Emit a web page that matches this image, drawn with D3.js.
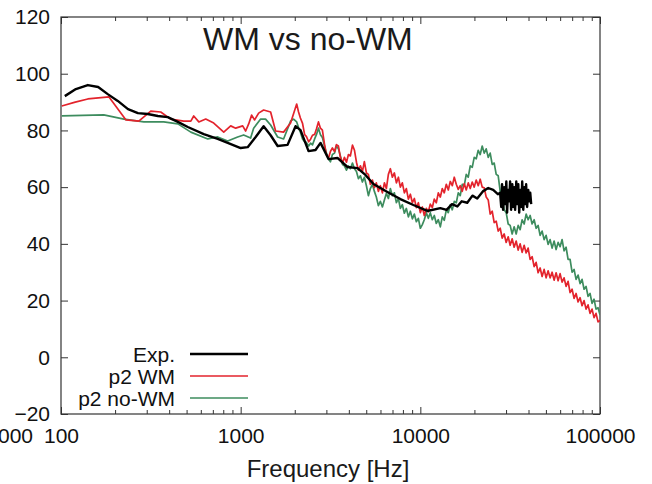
<!DOCTYPE html>
<html><head><meta charset="utf-8">
<script src="https://cdn.jsdelivr.net/npm/d3@7"></script>
<style>body{margin:0;background:#fff}svg{display:block}text{font-family:"Liberation Sans",Arial,Helvetica,sans-serif}</style>
</head><body><svg id="c" width="652" height="484"></svg>
<script>
// ---------------- data ----------------
const title = "WM vs no-WM";
const xLabel = "Frequency [Hz]";
const seriesNames = ["Exp.", "p2 WM", "p2 no-WM"];
const xTickValues = [100, 1000, 10000, 100000];
const yTickValues = [-20, 0, 20, 40, 60, 80, 100, 120];

// Exp. (measured)
const expFreq = [105,121,141,161,182,207,236,268,304,346,393,447,508,623,745,847,1000,1094,1212,1342,1468,1606,1824,2021,2154,2387,2610,2783,3083,3458,3930,4467,4948,5482,6556,7743,9146,10938,12915,14000,15000,16060,17000,18245,19500,20736,22387,23870,25440,27000,
  27800,28200,28500,28900,29300,29700,30100,30400,30800,31200,31600,32000,32500,32900,33300,33700,34200,34600,35100,35500,36000,36400,36900,37400,37900,38400,38800,39300,39900,40400,40900,41400];
const expVal = [92.1,94.6,96.0,95.3,92.8,90.4,87.5,86.1,85.8,85.1,84.7,83.0,81.2,78.7,77.0,75.6,73.8,74.1,77.7,81.5,78.3,74.5,74.9,81.5,80.1,72.7,73.1,75.6,69.9,70.3,67.1,66.7,64.3,61.1,58.3,55.8,53.7,51.6,52.6,52.0,54.0,53.2,55.0,54.5,57.0,56.0,58.6,59.7,59.0,57.5,
  58,53,61,52,60,54,62,51,59,55,62,52,61,53,60,52,62,54,61,51,59,53,62,52,60,54,61,53,59,55,58,54];

// p2 WM, low-frequency part
const wmLowFreq = [101,120,141,185,230,271,316,359,408,482,528,548,585,639,708,805,880,938,1026,1066,1108,1151,1196,1259,1342,1468,1565,1733,1896];
const wmLowVal  = [88.6,90.0,91.1,91.8,83.7,83.3,86.8,86.5,84.0,83.3,83.3,85.1,83.0,84.0,82.6,79.4,81.6,80.8,81.6,79.8,82.3,85.4,83.7,86.1,87.2,86.5,79.8,79.4,82.6];

// p2 no-WM, low-frequency part
const noWmLowFreq = [101,173,224,289,373,447,528,656,745,847,962,1039,1136,1181,1292,1376,1468,1606,1733,1896,1970];
const noWmLowVal  = [85.1,85.5,84.0,83.0,83.0,82.3,79.4,77.0,77.7,76.3,77.7,78.4,77.3,80.8,84.0,84.0,81.9,77.7,77.0,83.3,84.0];

// shared high-frequency grid for both simulations
const hfFreq = [2050,2100,2150,2210,2270,2320,2390,2450,2510,2580,
  2640,2710,2780,2850,2930,3000,3080,3160,3240,3330,
  3410,3500,3590,3690,3780,3880,3980,4080,4190,4300,
  4410,4520,4640,4760,4880,5010,5140,5270,5410,5550,
  5690,5840,5990,6150,6310,6470,6640,6810,6990,7170,
  7360,7550,7740,7940,8150,8360,8580,8800,9030,9260,
  9500,9750,10000,10260,10520,10800,11080,11360,11660,11960,
  12270,12590,12920,13250,13590,13950,14310,14680,15060,15450,
  15850,16260,16680,17110,17560,18010,18480,18960,19450,19950,
  20470,21000,21540,22100,22670,23260,23870,24480,25120,25770,
  26440,27130,27830,28550,29290,30050,30830,31620,32440,33280,
  34150,35030,35940,36870,37830,38810,39810,40840,41900,42990,
  44110,45250,46420,47630,48860,50130,51430,52760,54130,55530,
  56970,58450,59960,61520,63110,64750,66430,68150,69920,71730,
  73590,75500,77460,79470,81530,83640,85810,88030,90320,92660,
  95060,97520,100000];
const wmHfVal = [89.3,86.5,84.4,82.5,78.5,77.9,76.0,76.9,78.3,78.6,
  80.5,83.0,80.8,80.1,75.0,71.5,70.2,72.6,73.8,72.5,
  75.0,74.5,70.5,68.5,70.5,68.8,71.5,71.0,74.8,73.0,
  68.8,66.0,67.5,65.5,69.0,65.0,64.5,61.0,62.5,59.8,
  61.5,58.5,60.5,58.0,61.5,59.5,64.5,66.5,63.5,65.0,
  61.5,63.5,60.0,61.5,58.0,59.5,55.8,57.5,54.5,56.0,
  52.8,54.5,51.0,53.0,50.0,52.5,51.3,54.0,52.8,55.8,
  54.5,58.0,56.5,59.5,58.0,61.0,59.0,62.0,60.5,63.5,
  61.0,59.2,60.5,58.5,61.2,59.0,61.5,59.5,61.8,60.0,
  62.5,60.5,62.8,60.0,59.8,56.5,55.5,50.5,51.5,47.5,
  48.0,44.5,45.5,42.0,43.5,40.5,42.5,39.5,41.8,38.8,
  41.0,37.8,40.0,37.0,39.5,36.8,38.5,34.5,35.5,32.0,
  33.5,29.8,31.5,28.5,31.0,28.0,30.5,28.0,30.0,27.2,
  29.8,27.0,29.5,26.5,28.0,25.0,26.8,22.8,24.0,20.8,
  22.5,19.5,21.0,18.2,20.0,17.0,18.5,15.5,17.0,14.0,
  15.5,12.5,13.0];
const noWmHfVal = [83.0,81.0,79.4,77.0,76.0,75.8,74.5,75.5,74.9,77.0,
  78.5,80.8,78.5,77.5,74.5,72.0,70.0,68.9,71.5,72.0,
  74.5,73.5,71.0,68.0,67.5,66.0,67.5,66.5,68.5,66.5,
  65.5,63.0,64.0,61.8,63.5,60.5,57.0,59.5,61.0,58.5,
  56.5,53.5,55.0,53.0,55.5,57.8,56.0,59.5,57.0,58.0,
  54.5,56.0,52.5,53.8,50.8,52.5,49.5,51.5,48.8,50.5,
  47.8,49.0,45.5,46.8,48.5,51.0,49.0,51.0,48.5,50.0,
  47.2,48.5,46.0,49.5,48.3,52.0,51.0,53.8,52.0,55.0,
  54.5,58.0,57.0,61.0,60.5,64.5,63.5,67.5,67.0,70.5,
  70.0,73.0,71.5,74.5,72.0,73.5,70.5,72.0,68.0,68.5,
  64.5,64.0,58.5,57.0,52.0,51.0,47.0,46.5,43.5,46.0,
  43.5,46.5,45.0,48.5,47.0,50.5,48.5,50.0,47.0,48.5,
  45.5,46.5,43.0,44.5,41.5,43.0,39.8,41.5,38.5,41.0,
  38.0,40.5,39.0,41.5,37.5,38.8,34.5,34.5,30.0,31.0,
  27.5,29.0,26.0,27.5,24.0,25.0,21.5,22.5,19.0,20.5,
  17.0,17.5,15.0];

// ---------------- drawing ----------------
const colors = {"Exp.":"#000000","p2 WM":"#e3232c","p2 no-WM":"#3d8c5e"};
const widths = {"Exp.":2.4,"p2 WM":1.7,"p2 no-WM":1.7};

const zip = (f, v) => f.map((d, i) => ({f: d, v: v[i]}));
const series = {
  "Exp.": zip(expFreq, expVal),
  "p2 WM": zip(wmLowFreq.concat(hfFreq), wmLowVal.concat(wmHfVal)),
  "p2 no-WM": zip(noWmLowFreq.concat(hfFreq), noWmLowVal.concat(noWmHfVal))
};

const svg = d3.select("#c");
const L = 61, R = 600, T = 17, B = 414;
const x = d3.scaleLog().domain([100, 100000]).range([L, R]);
const y = d3.scaleLinear().domain([-20, 120]).range([B, T]);

const minorTicks = [];
for (let dec = 100; dec < 100000; dec *= 10) for (let k = 2; k <= 9; k++) minorTicks.push(dec * k);

const axisColor = "#333";
function styleAxis(g, fs) {
  g.select(".domain").remove();
  g.selectAll("line").attr("stroke", axisColor).attr("stroke-width", 1);
  g.selectAll("text").attr("fill", "#111").style("font-size", fs + "px");
}

// bottom axis
svg.append("g").attr("transform", `translate(0,${B})`)
  .call(d3.axisBottom(x).tickValues(xTickValues).tickFormat(d3.format("d")).tickSizeInner(-7).tickSizeOuter(0).tickPadding(14))
  .call(g => styleAxis(g, 21));
svg.append("g").attr("transform", `translate(0,${B})`)
  .call(d3.axisBottom(x).tickValues(minorTicks).tickFormat("").tickSizeInner(-4).tickSizeOuter(0))
  .call(g => styleAxis(g, 21));
// top axis
svg.append("g").attr("transform", `translate(0,${T})`)
  .call(d3.axisTop(x).tickValues(xTickValues).tickFormat("").tickSizeInner(-7).tickSizeOuter(0))
  .call(g => styleAxis(g, 21));
svg.append("g").attr("transform", `translate(0,${T})`)
  .call(d3.axisTop(x).tickValues(minorTicks).tickFormat("").tickSizeInner(-4).tickSizeOuter(0))
  .call(g => styleAxis(g, 21));
// left axis
svg.append("g").attr("transform", `translate(${L},0)`)
  .call(d3.axisLeft(y).tickValues(yTickValues).tickSizeInner(-7).tickSizeOuter(0).tickPadding(11))
  .call(g => styleAxis(g, 21));
// right axis
svg.append("g").attr("transform", `translate(${R},0)`)
  .call(d3.axisRight(y).tickValues(yTickValues).tickFormat("").tickSizeInner(-7).tickSizeOuter(0))
  .call(g => styleAxis(g, 21));

// neighbouring panel's cut-off label (cut at the left edge, as in the reference)
svg.append("text").attr("x", 33).attr("y", 443).attr("text-anchor", "end")
  .style("font-size", "21px").attr("fill", "#111").text("1000");

// frame
svg.append("rect").attr("x", L).attr("y", T).attr("width", R - L).attr("height", B - T)
  .attr("fill", "none").attr("stroke", axisColor).attr("stroke-width", 1.2);

// lines
const line = d3.line().x(d => x(d.f)).y(d => y(d.v));
svg.append("clipPath").attr("id", "clp").append("rect")
  .attr("x", L).attr("y", T).attr("width", R - L).attr("height", B - T);
const plotG = svg.append("g").attr("clip-path", "url(#clp)");
["p2 no-WM", "p2 WM", "Exp."].forEach(name => {
  plotG.append("path").datum(series[name]).attr("d", line)
    .attr("fill", "none").attr("stroke", colors[name]).attr("stroke-width", widths[name])
    .attr("stroke-linejoin", "round");
});

// title
svg.append("text").attr("x", 203).attr("y", 50).style("font-size", "32px").attr("fill", "#1a1a1a").text(title);

// x label
svg.append("text").attr("x", 328).attr("y", 477).attr("text-anchor", "middle")
  .style("font-size", "24px").attr("fill", "#1a1a1a").text(xLabel);

// legend
seriesNames.forEach((name, i) => {
  const ly = 354 + i * 22;
  svg.append("text").attr("x", 175).attr("y", ly + 7.5).attr("text-anchor", "end")
    .style("font-size", "21px").attr("fill", "#111").text(name);
  svg.append("line").attr("x1", 190).attr("x2", 248).attr("y1", ly).attr("y2", ly)
    .attr("stroke", colors[name]).attr("stroke-width", name === "Exp." ? 2.4 : 1.6);
});
</script></body></html>
